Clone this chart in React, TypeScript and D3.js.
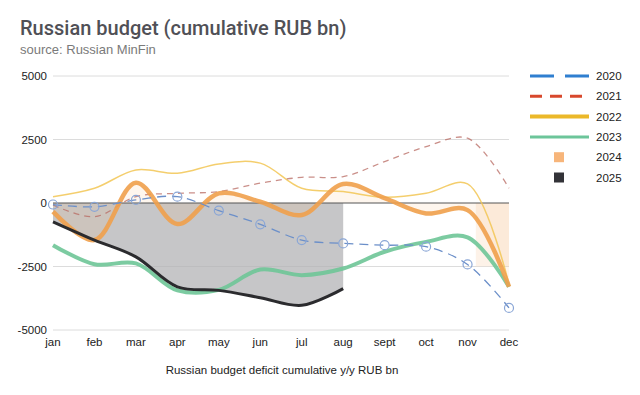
import React, { useEffect, useRef } from 'react';
import * as d3 from 'd3';

const months = ['jan', 'feb', 'mar', 'apr', 'may', 'jun', 'jul', 'aug', 'sept', 'oct', 'nov', 'dec'];
const yTicks = [5000, 2500, 0, -2500, -5000];

const y2020 = [-60, -150, 120, 250, -300, -840, -1460, -1590, -1660, -1720, -2420, -4130];
const y2021 = [-80, -540, 250, 380, 450, 780, 1010, 1040, 1630, 2220, 2550, 580];
const y2022 = [250, 580, 1300, 1170, 1540, 1570, 580, 450, 225, 380, 750, -3200];
const y2023 = [-1660, -2410, -2380, -3440, -3420, -2620, -2840, -2580, -1920, -1530, -1350, -3300];
const y2024 = [-340, -1460, 800, -830, 380, 50, -470, 750, 190, -410, -280, -3300];
const y2025 = [-740, -1460, -2120, -3300, -3440, -3730, -4030, -3370];

// shaded band near year end (month index from/to, value low/high)
const bandMonths = [10.2, 11];
const bandValues = [-2500, 0];

const legendYears = ['2020', '2021', '2022', '2023', '2024', '2025'];

const font = '"Liberation Sans", Arial, sans-serif';

const App: React.FC = () => {
  const svgRef = useRef<SVGSVGElement>(null);

  useEffect(() => {
    document.body.style.margin = '0';
    if (!svgRef.current) return;
    const svg = d3.select(svgRef.current);
    svg.selectAll('*').remove();

    const W = 640;
    const H = 395;

    svg.append('rect').attr('width', W).attr('height', H).attr('fill', '#fff');

    // Title
    svg.append('text')
      .attr('x', 20).attr('y', 35)
      .style('font-family', 'Roboto, "Liberation Sans", sans-serif')
      .style('font-size', '20px')
      .style('font-weight', 500)
      .style('fill', '#505056')
      .text('Russian budget (cumulative RUB bn)');

    svg.append('text')
      .attr('x', 20).attr('y', 54)
      .style('font-family', font)
      .style('font-size', '13px')
      .style('fill', '#7a7a7a')
      .text('source: Russian MinFin');

    const x = d3.scaleLinear().domain([0, 11]).range([53, 509]);
    const y = d3.scaleLinear().domain([-5000, 5000]).range([330, 76]);

    // Grid
    svg.append('g')
      .selectAll('line')
      .data(yTicks.filter((t) => t !== 0))
      .enter()
      .append('line')
      .attr('x1', x(0)).attr('x2', x(11))
      .attr('y1', (d) => y(d)).attr('y2', (d) => y(d))
      .attr('stroke', '#dcdcdc')
      .attr('stroke-width', 1);

    // Y labels
    svg.append('g')
      .selectAll('text')
      .data(yTicks)
      .enter()
      .append('text')
      .attr('x', 47)
      .attr('y', (d) => y(d) + 4)
      .attr('text-anchor', 'end')
      .style('font-family', font)
      .style('font-size', '11.5px')
      .style('fill', '#222')
      .text((d) => String(d));

    // X labels
    svg.append('g')
      .selectAll('text')
      .data(months)
      .enter()
      .append('text')
      .attr('x', (_d, i) => x(i))
      .attr('y', 346)
      .attr('text-anchor', 'middle')
      .style('font-family', font)
      .style('font-size', '11.5px')
      .style('fill', '#222')
      .text((d) => d);

    svg.append('text')
      .attr('x', 282).attr('y', 374)
      .attr('text-anchor', 'middle')
      .style('font-family', font)
      .style('font-size', '11.5px')
      .style('fill', '#222')
      .text('Russian budget deficit cumulative y/y RUB bn');

    const curve = d3.curveCatmullRom.alpha(0.5);
    const line = d3.line<number>().x((_d, i) => x(i)).y((d) => y(d)).curve(curve);
    const area = d3.area<number>().x((_d, i) => x(i)).y0(y(0)).y1((d) => y(d)).curve(curve);

    // year-end band
    svg.append('rect')
      .attr('x', x(bandMonths[0]))
      .attr('width', x(bandMonths[1]) - x(bandMonths[0]))
      .attr('y', y(bandValues[1]))
      .attr('height', y(bandValues[0]) - y(bandValues[1]))
      .attr('fill', '#fbe3cc')
      .attr('opacity', 0.45);

    // 2025 area
    svg.append('path')
      .datum(y2025)
      .attr('d', area)
      .attr('fill', '#b3b3b6')
      .attr('opacity', 0.75);

    // 2024 area
    svg.append('path')
      .datum(y2024)
      .attr('d', area)
      .attr('fill', '#f7b877')
      .attr('opacity', 0.12);

    // zero line
    svg.append('line')
      .attr('x1', x(0)).attr('x2', x(11))
      .attr('y1', y(0)).attr('y2', y(0))
      .attr('stroke', '#555')
      .attr('stroke-width', 1);

    // 2022
    svg.append('path').datum(y2022).attr('d', line)
      .attr('fill', 'none').attr('stroke', '#f2c553').attr('stroke-width', 1.5).attr('opacity', 0.85);

    // 2021
    svg.append('path').datum(y2021).attr('d', line)
      .attr('fill', 'none').attr('stroke', '#b86a62').attr('stroke-width', 1.3)
      .attr('stroke-dasharray', '6,5').attr('opacity', 0.75);

    // 2023
    svg.append('path').datum(y2023).attr('d', line)
      .attr('fill', 'none').attr('stroke', '#6ec597').attr('stroke-width', 4).attr('opacity', 0.9);

    // 2024
    svg.append('path').datum(y2024).attr('d', line)
      .attr('fill', 'none').attr('stroke', '#f0a04b').attr('stroke-width', 4.5).attr('opacity', 0.9);

    // 2020
    svg.append('path').datum(y2020).attr('d', line)
      .attr('fill', 'none').attr('stroke', '#6b8fc9').attr('stroke-width', 1.3)
      .attr('stroke-dasharray', '9,6');
    svg.append('g')
      .selectAll('circle')
      .data(y2020)
      .enter()
      .append('circle')
      .attr('cx', (_d, i) => x(i))
      .attr('cy', (d) => y(d))
      .attr('r', 4.5)
      .attr('fill', 'none')
      .attr('stroke', '#8aa6d6')
      .attr('stroke-width', 1.2);

    // 2025 line
    svg.append('path').datum(y2025).attr('d', line)
      .attr('fill', 'none').attr('stroke', '#2b2b2e').attr('stroke-width', 3);

    // Legend
    const lg = svg.append('g');
    const rowY = (i: number) => 76 + i * 20.3;
    const lx0 = 530;
    const lx1 = 589;
    const legendStyles = [
      { color: '#2f7fd0', width: 3, dash: '24,11' },
      { color: '#d8482c', width: 3, dash: '12,8' },
      { color: '#ebb829', width: 4, dash: null },
      { color: '#6cc59a', width: 3, dash: null },
    ];
    legendStyles.forEach((s, i) => {
      const l = lg.append('line')
        .attr('x1', lx0).attr('x2', lx1)
        .attr('y1', rowY(i)).attr('y2', rowY(i))
        .attr('stroke', s.color)
        .attr('stroke-width', s.width);
      if (s.dash) l.attr('stroke-dasharray', s.dash);
    });
    const squareColors = ['#f7b57a', '#333338'];
    squareColors.forEach((c, j) => {
      lg.append('rect')
        .attr('x', 554).attr('y', rowY(4 + j) - 5)
        .attr('width', 10).attr('height', 10)
        .attr('fill', c);
    });
    lg.selectAll('text')
      .data(legendYears)
      .enter()
      .append('text')
      .attr('x', 596)
      .attr('y', (_d, i) => rowY(i) + 4)
      .style('font-family', font)
      .style('font-size', '11.5px')
      .style('fill', '#222')
      .text((d) => d);
  }, []);

  return (
    <div style={{ width: 640, height: 395 }}>
      <svg ref={svgRef} width={640} height={395} style={{ display: 'block' }} />
    </div>
  );
};

export default App;
